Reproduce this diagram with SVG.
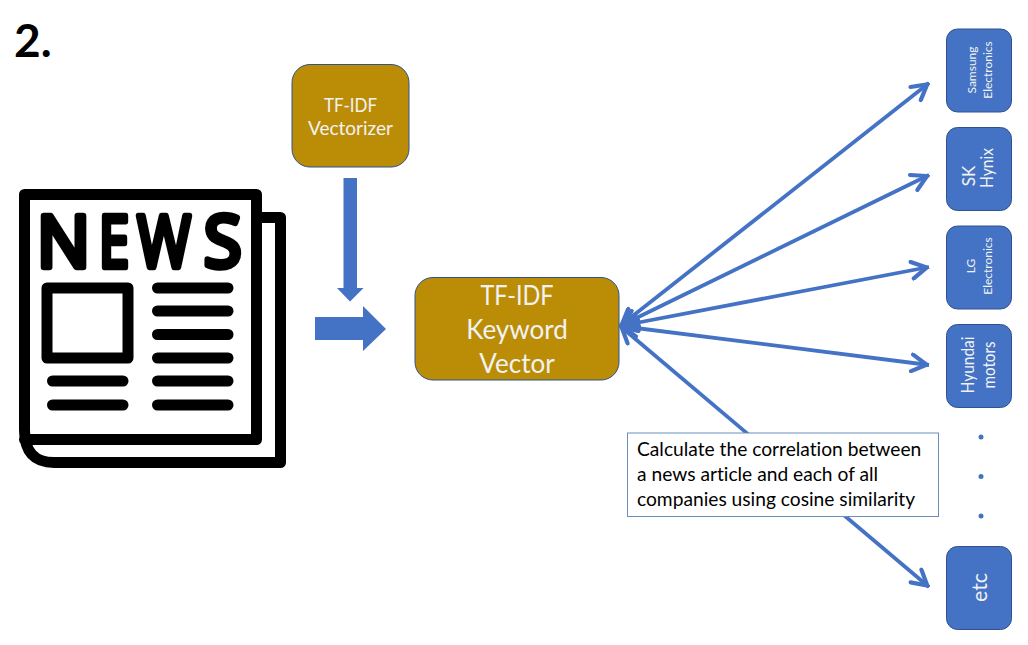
<svg xmlns="http://www.w3.org/2000/svg" width="1028" height="645" viewBox="0 0 1028 645">
<style>
text{font-family:"Lato","Open Sans","Liberation Sans",sans-serif;font-variant-ligatures:none}
.gold{fill:#BB8D07;stroke:#2F528F;stroke-width:1}
.co{fill:#4472C4;stroke:#2F528F;stroke-width:1}
.w{fill:#F2F2F2;text-anchor:middle}
.ink{fill:none;stroke:#000;stroke-width:11;stroke-linecap:round;stroke-linejoin:round}
.nw{font-family:"Open Sans","Liberation Sans",sans-serif;font-size:72px;fill:#000;stroke:#000;stroke-width:6.500;stroke-linejoin:round}
.link{fill:none;stroke:#4472C4;stroke-width:3.800;marker-start:url(#open);marker-end:url(#open)}
</style>
<defs>
<marker id="open" viewBox="0 0 12 12" refX="11.800" refY="6" markerWidth="5.500" markerHeight="5.500" orient="auto-start-reverse">
<path d="M2 1.200 L10.500 6 L2 10.800" fill="none" stroke="#4472C4" stroke-width="2.400" stroke-linecap="round"/>
</marker>
</defs>
<rect width="1028" height="645" fill="#fff"/>
<text x="14" y="57" font-size="46" font-weight="700" fill="#000">2.</text>

<g id="news-icon">
<path class="ink" d="M262 217.500H280.500V462.500H54Q24.500 462.500 24.500 430V194.500H256.500V439.500H24.500"/>
<text class="nw" x="37" y="267" textLength="53" lengthAdjust="spacingAndGlyphs">N</text>
<text class="nw" x="99" y="267" textLength="30" lengthAdjust="spacingAndGlyphs">E</text>
<text class="nw" x="137.500" y="267" textLength="53" lengthAdjust="spacingAndGlyphs">W</text>
<text class="nw" x="204" y="267" textLength="37.400" lengthAdjust="spacingAndGlyphs">S</text>
<rect class="ink" x="47" y="288" width="81" height="70" style="stroke-linecap:butt"/>
<path class="ink" d="M157.500 288H228M157.500 311H228M157.500 334.500H228M157.500 358H228M157.500 381H228M157.500 405H228M52.500 381H123M52.500 405H123"/>
</g>

<g id="vectorizer">
<rect class="gold" x="292" y="64.500" width="117" height="102.500" rx="18"/>
<text class="w" x="350.500" y="112" font-size="19" textLength="53" lengthAdjust="spacingAndGlyphs">TF-IDF</text>
<text class="w" x="350.500" y="135" font-size="19">Vectorizer</text>
</g>

<g id="keyword-vector">
<rect class="gold" x="415" y="277.500" width="204" height="102.500" rx="18"/>
<text class="w" x="517" y="304.500" font-size="26" textLength="73" lengthAdjust="spacingAndGlyphs">TF-IDF</text>
<text class="w" x="517" y="339" font-size="26">Keyword</text>
<text class="w" x="517" y="372.500" font-size="26">Vector</text>
</g>

<g id="flow-arrows" fill="#4472C4">
<path d="M343.500 178H357V288H363.500L350 301.500L337 288H343.500Z"/>
<path d="M315 317H363V306L386 329L363 351V340H315Z"/>
</g>

<g id="connectors">
<path class="link" d="M620 326L929 83"/>
<path class="link" d="M620 326L929 175"/>
<path class="link" d="M620 326L929 267"/>
<path class="link" d="M620 326L929 365"/>
<path class="link" d="M620 326L929 587"/>
</g>

<g id="samsung">
<rect class="co" x="946.500" y="29" width="65" height="83" rx="11"/>
<text class="w" font-size="12" transform="translate(976 70) rotate(-90)">Samsung</text>
<text class="w" font-size="12" transform="translate(992 70) rotate(-90)">Electronics</text>
</g>
<g id="sk-hynix">
<rect class="co" x="946.500" y="127.500" width="65" height="83" rx="11"/>
<text class="w" font-size="17" transform="translate(975 176) rotate(-90)">SK</text>
<text class="w" font-size="17" textLength="40" lengthAdjust="spacingAndGlyphs" transform="translate(993 168) rotate(-90)">Hynix</text>
</g>
<g id="lg">
<rect class="co" x="946.500" y="226" width="65" height="83" rx="11"/>
<text class="w" font-size="12" transform="translate(975 266) rotate(-90)">LG</text>
<text class="w" font-size="12" transform="translate(992 266) rotate(-90)">Electronics</text>
</g>
<g id="hyundai">
<rect class="co" x="946.500" y="324.500" width="65" height="83" rx="11"/>
<text class="w" font-size="17" textLength="57" lengthAdjust="spacingAndGlyphs" transform="translate(974 365) rotate(-90)">Hyundai</text>
<text class="w" font-size="17" textLength="47" lengthAdjust="spacingAndGlyphs" transform="translate(995 365) rotate(-90)">motors</text>
</g>
<g id="dots" fill="#4472C4">
<circle cx="981" cy="437" r="2.500"/>
<circle cx="981" cy="476.500" r="2.500"/>
<circle cx="981" cy="516" r="2.500"/>
</g>
<g id="etc">
<rect class="co" x="946.500" y="546.500" width="65" height="83" rx="11"/>
<text class="w" font-size="21" textLength="29" lengthAdjust="spacingAndGlyphs" transform="translate(987 587.500) rotate(-90)">etc</text>
</g>

<g id="caption">
<rect x="627.500" y="433" width="311" height="83.500" fill="#fff" stroke="#6C8EBF" stroke-width="1"/>
<g font-size="19.200" fill="#000">
<text x="637" y="456">Calculate the correlation between</text>
<text x="637" y="481">a news article and each of all</text>
<text x="637" y="506">companies using cosine similarity</text>
</g>
</g>
</svg>
